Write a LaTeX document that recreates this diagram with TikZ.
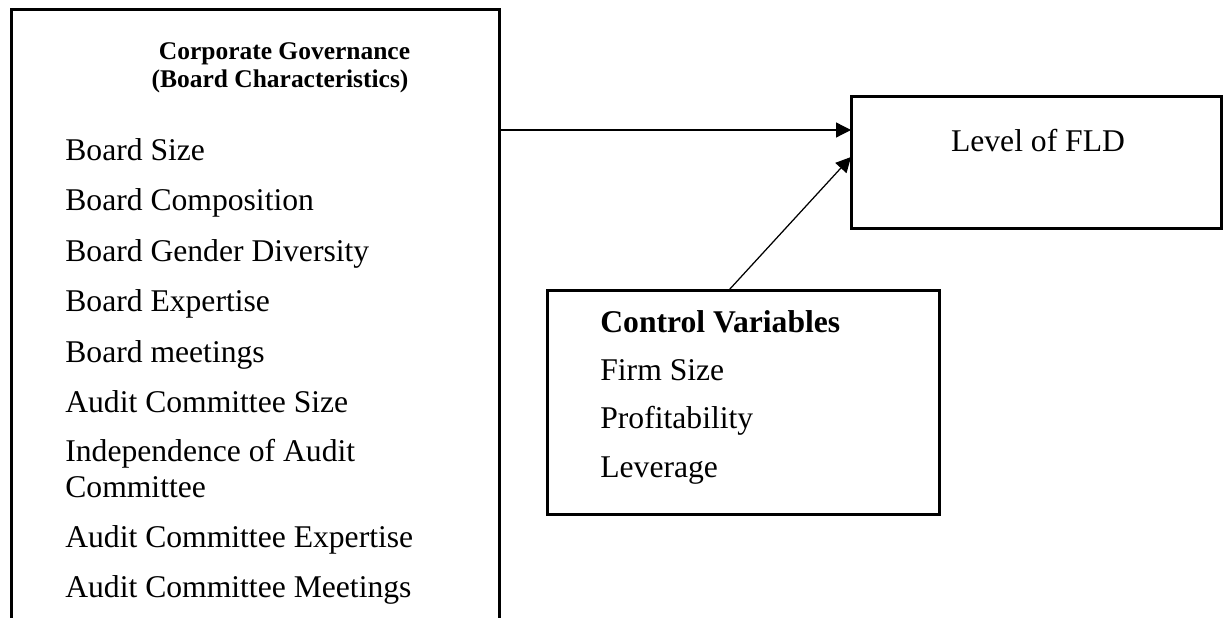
\documentclass[tikz,border=0pt]{standalone}
\usepackage{fontspec}
\setmainfont{Liberation Serif}
\usetikzlibrary{arrows.meta,positioning}

\begin{document}
\begin{tikzpicture}[
    x=0.02cm, y=-0.02cm,
    box/.style={draw, line width=0.06cm, outer sep=0pt, inner sep=0pt, anchor=north west},
    item/.style={anchor=base west, inner sep=0pt, font=\fontsize{18pt}{20.5pt}\selectfont},
    head/.style={anchor=base, inner sep=0pt, font=\fontsize{14.5pt}{16pt}\selectfont\bfseries},
    arrow/.style={-{Triangle[length=0.3cm, width=0.3cm]}, line width=0.025cm}
  ]
    \clip (0,0) rectangle (1230,618);
    % boxes
    \node[box, minimum width=9.77cm, minimum height=13cm] (cg) at (11.5,10) {};
    \node[box, minimum width=7.42cm, minimum height=2.64cm] (fld) at (851,97) {};
    \node[box, minimum width=7.86cm, minimum height=4.5cm] (ctrl) at (547,290) {};
    % corporate governance
    \node[head] (cgTitle) at (284.5,60) {Corporate Governance};
    \node[head] (cgSub) at (280,88) {(Board Characteristics)};
    \node[item] (bSize) at (65,161) {Board Size};
    \node[item] (bComp) at (65,211) {Board Composition};
    \node[item] (bGender) at (65,261) {Board Gender Diversity};
    \node[item] (bExp) at (65,311) {Board Expertise};
    \node[item] (bMeet) at (65,362) {Board meetings};
    \node[item] (acSize) at (65,412) {Audit Committee Size};
    \node[item] (acInd) at (65,461) {Independence of Audit};
    \node[item] (acIndB) at (65,497) {Committee};
    \node[item] (acExp) at (65,547) {Audit Committee Expertise};
    \node[item] (acMeet) at (65,597) {Audit Committee Meetings};
    % outcome
    \node[item, anchor=base] (fldText) at (1038,152) {Level of FLD};
    % controls
    \node[item, font=\fontsize{18pt}{20.5pt}\selectfont\bfseries] (cvTitle) at (600,332) {Control Variables};
    \node[item] (cvFirm) at (600,380) {Firm Size};
    \node[item] (cvProf) at (600,428) {Profitability};
    \node[item] (cvLev) at (600,477) {Leverage};
    % arrows
    \coordinate (hLine) at (0,130);
    \coordinate (dStart) at (729,0);
    \coordinate (dEnd) at (0,157);
    \draw[arrow] (cg.east |- hLine) -- (fld.west |- hLine);
    \draw[arrow] (ctrl.north -| dStart) -- (fld.west |- dEnd);
  \end{tikzpicture}
\end{document}
